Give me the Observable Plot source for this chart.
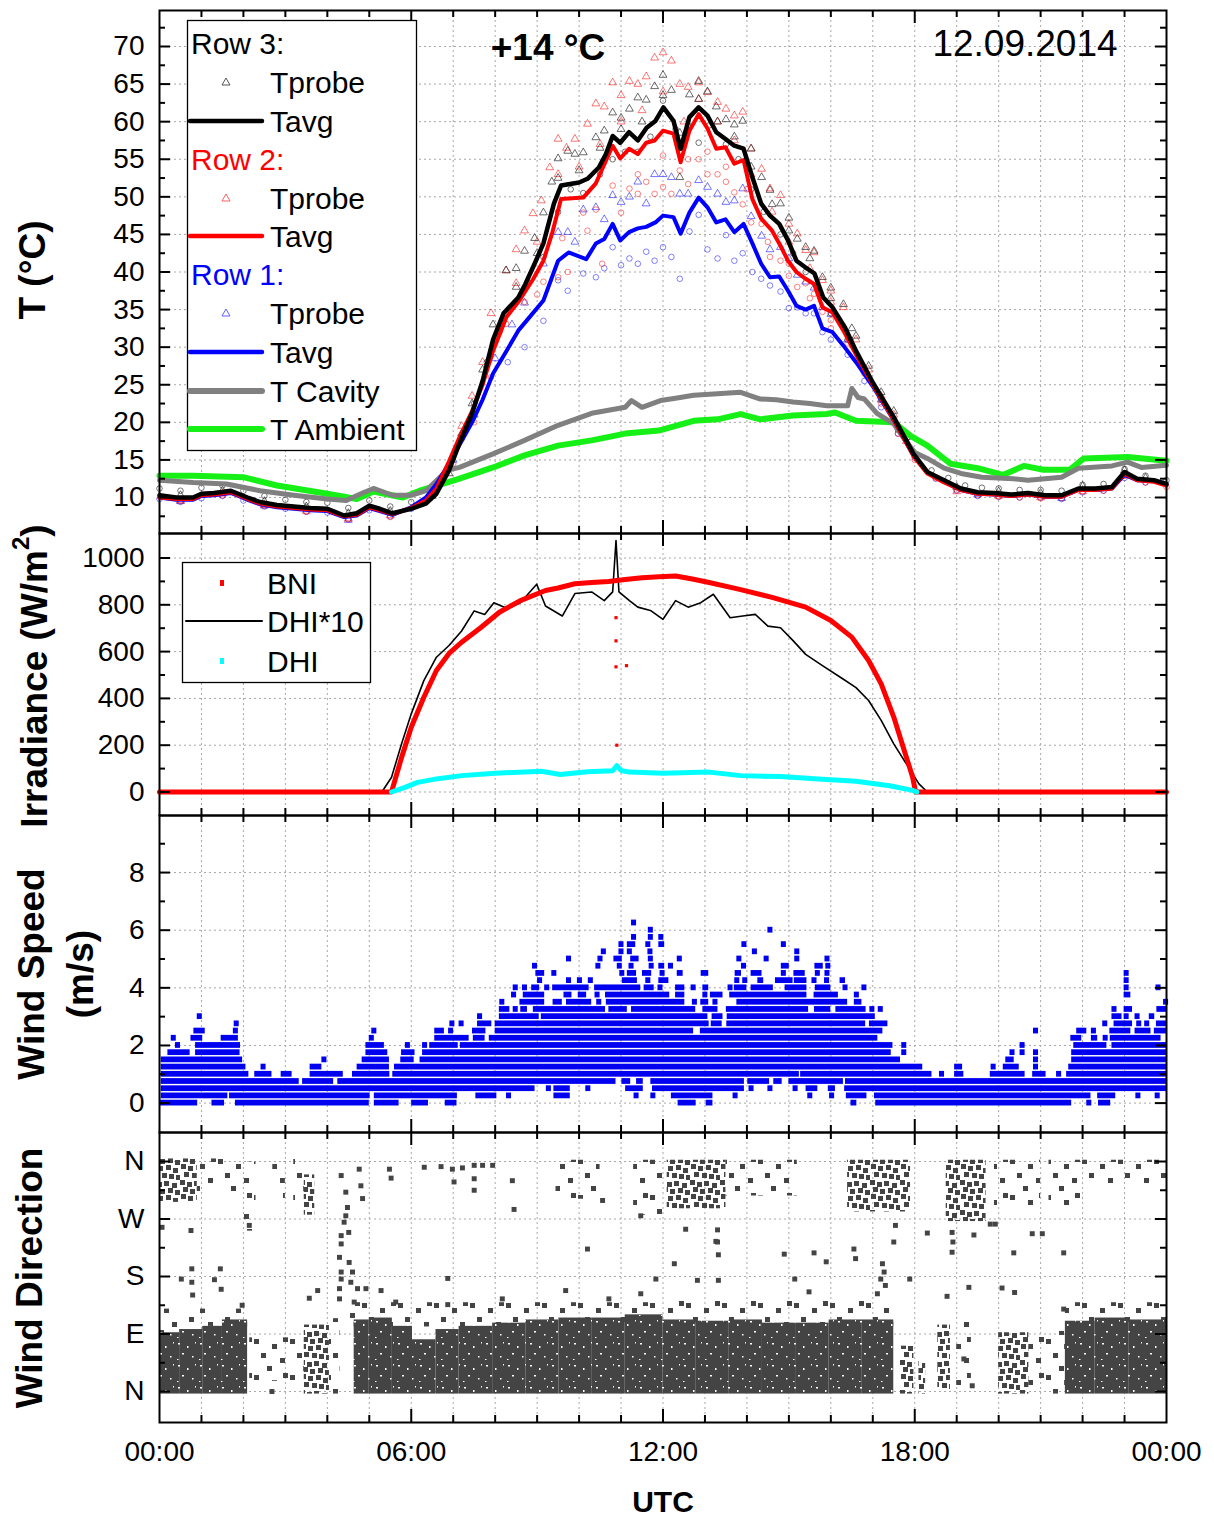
<!DOCTYPE html>
<html>
<head>
<meta charset="utf-8">
<script src="https://cdn.jsdelivr.net/npm/d3@7"></script>
<script src="https://cdn.jsdelivr.net/npm/@observablehq/plot@0.6"></script>
<style>
  html,body{margin:0;padding:0;background:#fff;}
  #chart{position:relative;width:1214px;height:1520px;background:#fff;overflow:hidden;}
</style>
</head>
<body>
<div id="chart"></div>
<script>
// ===================== DATA (hours UTC, values) =====================
// --- Temperature panel: averages [hour, °C]
const row3Tavg = [[0,10.3],[0.4,10.0],[0.8,10.0],[1.0,10.5],[1.3,10.6],[1.7,10.9],[2.1,10.0],[2.4,9.4],[2.8,9.0],[3.2,8.8],[3.6,8.6],[4.0,8.5],[4.4,7.6],[4.7,7.9],[5.0,8.9],[5.25,8.5],[5.55,7.9],[6.0,8.5],[6.35,9.2],[6.6,10.5],[6.9,13.6],[7.15,17.2],[7.45,21.2],[7.7,25.5],[7.95,31.0],[8.2,34.5],[8.55,36.6],[8.72,38.4],[8.94,41.1],[9.15,43.8],[9.4,49.1],[9.57,51.5],[10.0,51.9],[10.2,52.4],[10.47,53.9],[10.64,55.7],[10.8,58.1],[10.98,57.2],[11.19,58.6],[11.4,57.5],[11.61,59.2],[11.82,60.1],[12.01,61.9],[12.25,60.1],[12.42,56.4],[12.63,60.6],[12.85,61.9],[13.06,60.8],[13.27,58.6],[13.49,57.7],[13.7,56.8],[13.92,56.4],[14.13,52.6],[14.34,49.1],[14.55,47.5],[14.77,46.4],[14.98,44.2],[15.18,41.5],[15.4,40.6],[15.61,39.8],[15.82,36.6],[16.04,35.3],[16.34,32.6],[16.6,29.5],[17.0,25.3],[17.5,20.7],[17.97,15.8],[18.3,13.4],[18.7,12.3],[19.1,11.2],[19.5,10.7],[19.9,10.6],[20.3,10.4],[20.7,10.6],[21.1,10.3],[21.5,10.3],[21.9,11.2],[22.3,11.2],[22.7,11.4],[23.0,13.4],[23.3,12.5],[23.7,12.3],[24,11.8]];
const row2Tavg = [[0,10.0],[0.4,9.8],[0.8,9.8],[1.0,10.3],[1.3,10.4],[1.7,10.7],[2.1,9.8],[2.4,9.2],[2.8,8.8],[3.2,8.6],[3.6,8.4],[4.0,8.3],[4.4,7.5],[4.7,7.7],[5.0,8.7],[5.25,8.3],[5.55,7.8],[6.0,8.6],[6.35,9.6],[6.6,11.2],[6.9,14.8],[7.15,18.0],[7.45,21.5],[7.7,25.0],[7.95,29.5],[8.27,34.0],[8.55,36.0],[8.9,39.0],[9.15,41.5],[9.35,45.0],[9.57,49.7],[10.1,49.9],[10.4,51.8],[10.8,56.8],[10.98,55.1],[11.19,56.4],[11.4,55.7],[11.6,57.2],[11.8,57.5],[12.0,58.8],[12.25,58.4],[12.42,54.6],[12.63,58.8],[12.85,61.0],[13.06,59.1],[13.27,56.4],[13.49,56.6],[13.7,54.4],[13.92,54.9],[14.13,49.7],[14.34,47.1],[14.6,45.5],[14.77,43.8],[14.98,41.5],[15.18,40.0],[15.4,39.1],[15.6,38.4],[15.8,35.3],[16.04,34.6],[16.3,32.2],[16.6,29.0],[17.0,25.0],[17.5,20.3],[17.97,15.5],[18.3,13.2],[18.7,12.0],[19.1,11.0],[19.5,10.5],[19.9,10.4],[20.3,10.2],[20.7,10.4],[21.1,10.1],[21.5,10.1],[21.9,11.0],[22.3,11.0],[22.7,11.2],[23.0,13.2],[23.3,12.3],[23.7,12.1],[24,11.6]];
const row1Tavg = [[0,10.0],[0.4,9.7],[0.8,9.7],[1.0,10.2],[1.3,10.3],[1.7,10.6],[2.1,9.7],[2.4,9.1],[2.8,8.7],[3.2,8.5],[3.6,8.3],[4.0,8.2],[4.4,7.4],[4.7,7.6],[5.0,8.6],[5.25,8.2],[5.55,7.7],[6.0,8.7],[6.35,10.0],[6.6,11.8],[6.9,14.5],[7.15,17.0],[7.45,20.0],[7.7,23.0],[7.95,26.5],[8.27,29.5],[8.55,32.2],[8.85,34.2],[9.15,36.2],[9.5,41.5],[9.75,42.6],[10.17,41.7],[10.4,43.8],[10.6,44.4],[10.8,46.4],[10.98,44.2],[11.19,45.3],[11.4,45.8],[11.6,46.0],[11.82,46.6],[12.0,47.5],[12.25,47.3],[12.42,45.1],[12.63,47.9],[12.85,49.9],[13.06,48.6],[13.27,46.6],[13.49,47.0],[13.7,45.3],[13.92,46.4],[14.13,43.8],[14.34,41.1],[14.55,39.3],[14.77,39.4],[14.98,37.5],[15.18,35.5],[15.4,35.0],[15.6,35.5],[15.8,32.5],[16.04,32.0],[16.3,30.2],[16.6,28.0],[17.0,24.8],[17.5,20.3],[17.97,15.6],[18.3,13.3],[18.7,12.1],[19.1,11.0],[19.5,10.5],[19.9,10.4],[20.3,10.2],[20.7,10.4],[21.1,10.1],[21.5,10.1],[21.9,11.0],[22.3,11.0],[22.7,11.2],[23.0,13.0],[23.3,12.3],[23.7,12.2],[24,11.7]];
const tCavity = [[0,12.3],[0.8,12.0],[1.6,11.8],[2.4,10.9],[3.2,10.3],[4.0,9.8],[4.45,9.6],[4.8,10.5],[5.1,11.2],[5.55,10.3],[6.0,10.3],[6.35,10.9],[6.85,13.6],[7.15,14.0],[7.95,15.8],[8.7,17.6],[9.5,19.6],[10.3,21.2],[11.1,22.0],[11.25,22.9],[11.5,22.0],[11.94,22.9],[12.3,23.2],[12.73,23.6],[13.3,23.8],[13.85,24.0],[14.32,23.1],[14.7,23.0],[15.1,22.7],[15.5,22.5],[15.9,22.2],[16.4,22.2],[16.5,24.5],[16.65,23.3],[16.8,23.1],[17.1,21.2],[17.5,19.8],[17.8,17.4],[18.0,16.0],[18.3,15.2],[18.7,13.9],[19.1,13.2],[19.6,12.7],[20.35,12.5],[20.7,12.3],[21.5,12.7],[21.9,13.9],[22.7,14.2],[23.07,14.7],[23.4,14.0],[24,14.3]];
const tAmbient = [[0,12.9],[0.8,12.9],[2.0,12.7],[2.8,11.6],[4.0,10.5],[4.7,9.8],[5.1,10.8],[5.8,10.0],[6.2,10.9],[6.75,11.8],[7.15,12.5],[7.95,14.0],[8.7,15.6],[9.5,16.9],[10.3,17.6],[11.1,18.5],[11.9,18.9],[12.73,20.2],[13.3,20.4],[13.85,21.1],[14.32,20.4],[15.1,20.9],[15.9,21.1],[16.1,21.3],[16.6,20.2],[17.5,20.0],[17.9,18.2],[18.3,16.9],[18.85,14.5],[19.5,13.9],[20.1,13.0],[20.6,14.2],[21.07,13.7],[21.7,13.7],[22.03,15.2],[23.07,15.4],[24,14.9]];
// --- Temperature panel: individual probes [hour, °C]
const row3ProbeTri = [[0.5,10.3],[1.5,10.9],[2.5,9.5],[3.5,8.8],[4.5,7.9],[5.5,8.2],[6.5,10.2],[6.9,13.2],[7.2,18.5],[7.45,22.5],[7.7,27.0],[7.95,33.0],[8.26,40.2],[8.5,40.5],[8.7,42.8],[8.94,44.5],[9.15,47.9],[9.35,52.0],[9.5,55.1],[9.73,56.1],[9.9,55.7],[10.1,55.9],[10.4,57.9],[10.6,58.8],[10.8,61.2],[11.0,60.5],[11.2,61.7],[11.4,63.2],[11.6,62.9],[11.8,64.7],[12.0,66.2],[12.2,64.2],[12.4,58.5],[12.63,63.6],[12.85,65.4],[13.06,64.0],[13.27,62.0],[13.5,60.3],[13.7,59.6],[13.9,60.1],[14.1,56.4],[14.35,52.6],[14.55,50.9],[14.8,49.1],[15.0,47.2],[15.2,44.4],[15.4,43.3],[15.6,42.8],[15.8,39.3],[16.0,37.9],[16.3,35.7],[16.6,31.5],[16.9,27.5],[17.2,24.0],[17.5,21.5],[17.8,18.0],[8.5,38.0],[9.0,42.5],[9.5,52.5],[10.0,53.5],[10.5,56.5],[11.0,59.0],[11.5,60.0],[12.0,63.5],[12.4,52.6],[12.85,63.0],[13.3,60.0],[13.7,58.0],[14.1,54.0],[14.6,49.0],[15.0,45.5],[15.5,41.8],[16.0,36.5],[16.5,32.5],[19,11.4],[20,10.8],[21,10.6],[22,11.5],[23,13.6],[23.5,12.6]];
const row3ProbeCirc = [[0,11.2],[0.5,10.9],[1.0,11.3],[1.5,11.6],[2.0,10.9],[2.5,10.2],[3.0,9.7],[3.5,9.4],[4.0,9.3],[4.5,8.6],[5.0,9.6],[5.5,8.8],[6.0,9.4],[6.5,11.5],[6.9,14.2],[7.2,17.8],[7.5,22.5],[7.8,28.0],[8.1,32.0],[8.5,36.0],[8.8,38.5],[9.15,42.0],[9.5,48.0],[9.8,51.0],[10.1,50.5],[10.5,53.0],[10.8,55.0],[11.1,56.0],[11.4,56.0],[11.7,58.0],[12.0,62.8],[12.3,59.0],[12.6,59.5],[12.85,57.2],[13.1,59.5],[13.5,57.0],[13.8,55.0],[14.1,51.0],[14.4,48.0],[14.8,45.0],[15.1,42.5],[15.4,40.0],[15.7,37.5],[16.0,34.5],[16.4,31.0],[16.8,27.0],[17.2,23.0],[17.6,19.0],[18.0,15.8],[18.4,13.6],[18.8,12.6],[19.2,11.6],[19.6,11.3],[20.0,11.2],[20.5,11.0],[21.0,11.0],[21.5,10.9],[22.0,11.7],[22.5,11.8],[23.0,13.8],[23.5,12.9],[24,12.3]];
const row2ProbeTri = [[0.5,9.6],[1.5,10.5],[2.5,9.0],[3.5,8.2],[4.5,7.2],[5.5,7.6],[7.2,19.5],[7.45,23.5],[7.7,28.0],[7.9,34.5],[8.26,40.2],[8.5,43.0],[8.7,45.5],[8.9,47.8],[9.1,49.5],[9.3,53.9],[9.5,57.7],[9.7,56.5],[9.9,57.7],[10.2,59.7],[10.4,62.4],[10.6,62.0],[10.8,65.2],[11.0,63.5],[11.2,65.4],[11.4,65.0],[11.6,66.0],[11.8,68.5],[12.0,69.2],[12.2,68.1],[12.4,65.0],[12.6,64.6],[12.85,65.2],[13.06,63.9],[13.3,62.6],[13.5,61.7],[13.7,60.8],[13.9,61.3],[14.1,56.4],[14.35,53.7],[14.55,51.1],[14.8,50.2],[15.0,46.4],[15.2,45.1],[15.4,42.9],[15.6,42.6],[15.8,38.9],[16.0,37.5],[16.3,35.3],[16.6,31.0],[16.9,27.0],[17.2,23.5],[17.5,21.0],[17.8,17.5],[8.5,38.5],[9.0,44.0],[9.5,53.0],[10.0,54.0],[10.5,57.0],[11.0,60.0],[11.5,61.5],[12.0,64.0],[12.5,60.0],[12.85,63.0],[13.3,60.0],[13.7,57.5],[14.1,53.0],[14.6,48.0],[15.0,44.0],[15.5,40.5],[16.0,36.0],[19,10.8],[20,10.2],[21,10.0],[22,10.8],[23,12.9]];
const row2ProbeCirc = [[0.5,9.5],[1.5,10.3],[2.5,8.9],[3.5,8.1],[4.5,7.1],[5.5,7.4],[6.5,10.5],[7.0,14.5],[7.5,20.0],[7.9,26.0],[8.26,33.1],[8.7,36.0],[9.15,38.7],[9.5,39.3],[9.73,40.0],[10.1,47.9],[10.4,48.3],[10.55,41.1],[11.0,47.9],[11.2,51.1],[11.4,50.4],[11.6,52.0],[11.8,50.4],[12.0,51.3],[12.2,50.4],[12.4,53.5],[12.6,51.7],[12.85,55.0],[13.06,53.0],[13.3,53.0],[13.5,52.0],[13.7,50.6],[13.9,49.0],[14.1,46.6],[14.35,46.4],[14.55,42.0],[14.8,41.5],[15.0,41.1],[15.2,38.0],[15.4,38.5],[15.6,37.1],[15.8,34.7],[16.0,33.6],[16.4,30.5],[16.8,26.5],[17.2,22.5],[17.6,18.5],[18.0,15.0],[18.5,12.6],[19.0,11.0],[19.5,10.3],[20.0,10.1],[20.5,10.0],[21.0,9.9],[21.5,9.9],[22.0,10.8],[22.5,10.9],[23.0,12.9],[23.5,12.0],[24,11.4],[9.0,37.0],[9.6,44.5],[10.2,45.5],[10.8,51.5],[11.4,53.0],[12.0,55.5],[12.6,55.0],[13.06,56.0],[13.5,54.0],[14.0,51.0],[14.5,44.0],[15.0,39.5],[15.5,36.5],[16.0,32.5]];
const row1ProbeTri = [[0.5,9.5],[2.5,8.9],[4.5,7.0],[7.0,15.0],[7.5,21.0],[8.0,28.5],[8.4,33.0],[8.7,35.9],[9.15,41.1],[9.5,45.3],[9.73,45.3],[9.9,44.0],[10.1,48.3],[10.4,48.6],[10.6,47.0],[10.8,50.2],[11.0,49.3],[11.2,50.0],[11.4,52.0],[11.6,49.1],[11.8,53.0],[12.0,53.0],[12.2,52.6],[12.4,50.4],[12.6,50.4],[12.85,52.2],[13.06,51.3],[13.3,50.4],[13.5,49.3],[13.7,49.5],[13.9,51.1],[14.1,47.4],[14.35,44.8],[14.55,43.0],[14.8,43.3],[15.0,41.8],[15.2,39.6],[15.4,38.7],[15.6,37.9],[15.8,35.3],[16.0,34.4],[16.4,31.0],[16.8,27.0],[17.2,23.0],[19.5,10.4],[21.5,9.9]];
const row1ProbeCirc = [[0,9.8],[0.5,9.4],[1.0,9.9],[1.5,10.2],[2.0,9.6],[2.5,8.8],[3.0,8.5],[3.5,8.1],[4.0,8.0],[4.5,7.1],[5.0,8.3],[5.5,7.5],[6.0,8.5],[8.3,28.0],[8.7,30.0],[9.15,33.5],[9.5,38.9],[9.73,37.5],[10.1,39.8],[10.4,39.3],[10.6,40.5],[10.8,43.3],[11.0,40.9],[11.2,41.8],[11.4,41.1],[11.6,42.7],[11.8,41.5],[12.0,43.3],[12.2,42.0],[12.4,39.1],[12.63,45.4],[12.85,47.6],[13.06,43.0],[13.3,41.8],[13.5,44.9],[13.7,41.5],[13.9,42.5],[14.13,40.0],[14.34,39.1],[14.55,38.2],[14.8,37.4],[15.0,35.2],[15.2,35.3],[15.4,34.5],[15.6,34.5],[15.8,32.0],[16.0,31.0],[16.4,29.0],[16.8,25.5],[17.2,22.0],[17.6,18.5],[18.0,15.3],[18.5,12.5],[19.0,10.9],[19.5,10.2],[20.0,10.1],[20.5,10.0],[21.0,10.0],[21.5,9.8],[22.0,10.7],[22.5,10.9],[23.0,12.6],[23.5,12.0]];

// --- Irradiance panel [hour, W/m²]
const bni = [[0,0],[5.53,0],[5.77,148],[6.0,277],[6.3,405],[6.6,519],[6.9,592],[7.2,640],[7.66,703],[8.1,768],[8.6,818],[9.2,861],[9.5,872],[9.9,890],[10.3,895],[10.7,900],[11.1,908],[11.5,916],[11.9,920],[12.3,923],[12.7,910],[13.1,895],[13.8,867],[14.6,832],[15.4,790],[16.0,733],[16.5,662],[16.9,562],[17.2,462],[17.5,320],[17.8,149],[17.95,63],[18.02,0],[24,0]];
const bniOutliers = [[10.88,745],[10.88,646],[10.88,535],[11.13,540],[10.9,200]];
const dhiTimes10 = [[0,0],[5.3,0],[5.53,63],[5.77,206],[6.0,334],[6.3,476],[6.6,576],[6.9,626],[7.2,688],[7.5,774],[7.75,759],[7.97,809],[8.3,783],[8.6,809],[8.99,888],[9.2,795],[9.6,752],[9.9,848],[10.3,855],[10.6,818],[10.8,855],[10.88,1075],[10.95,855],[11.2,818],[11.4,790],[11.7,776],[12.0,738],[12.3,818],[12.6,790],[12.9,809],[13.2,845],[13.6,745],[13.9,752],[14.2,759],[14.5,709],[14.8,702],[15.1,647],[15.4,588],[15.8,540],[16.3,482],[16.6,446],[16.9,391],[17.2,306],[17.5,206],[17.8,120],[18.1,35],[18.3,0],[24,0]];
const dhi = [[5.53,0],[5.85,20],[6.15,41],[6.6,56],[7.2,70],[8.0,80],[9.1,89],[9.55,75],[10.2,87],[10.8,91],[10.9,113],[11.0,92],[11.2,85],[12.0,80],[13.1,85],[13.85,70],[14.8,66],[15.7,56],[16.6,46],[17.4,27],[17.95,7],[18.05,0]];

// --- Wind speed: runs of readings at each 0.25 m/s level [m/s, from hour, to hour]
const windSpeedRuns = [
[0,0,0.91],[0,1.25,1.55],[0,1.81,5.0],[0,5.12,5.71],[0,6.01,6.41],[0,6.81,7.09],[0,12.36,12.79],[0,13.03,13.19],[0,16.48,16.62],[0,17.07,21.74],[0,22.10,22.21],[0,22.38,22.67],
[0.25,0.04,1.63],[0.25,1.67,5.02],[0.25,5.12,7.10],[0.25,7.54,8.04],[0.25,8.27,8.37],[0.25,9.40,9.79],[0.25,11.31,11.43],[0.25,11.71,11.83],[0.25,12.20,13.19],[0.25,13.67,13.76],[0.25,15.45,15.57],[0.25,15.97,16.05],[0.25,16.37,16.86],[0.25,17.04,22.20],[0.25,22.36,22.79],[0.25,23.27,23.39],[0.25,23.73,23.83],
[0.5,0.04,8.95],[0.5,9.22,9.33],[0.5,9.40,9.79],[0.5,10.16,10.28],[0.5,11.11,11.53],[0.5,11.75,13.94],[0.5,14.05,14.14],[0.5,14.50,14.58],[0.5,15.10,15.20],[0.5,15.41,15.69],[0.5,15.94,16.11],[0.5,16.33,24],
[0.75,0.04,3.33],[0.75,3.41,4.15],[0.75,4.25,10.88],[0.75,11.02,11.23],[0.75,11.37,11.53],[0.75,11.71,13.94],[0.75,14.02,14.54],[0.75,14.64,14.84],[0.75,15.0,16.30],[0.75,16.35,24],
[1,0.04,2.13],[1,2.27,2.68],[1,2.90,3.16],[1,3.59,4.38],[1,4.60,5.49],[1,5.56,15.25],[1,15.28,18.41],[1,18.59,18.71],[1,18.95,19.17],[1,19.80,20.63],[1,20.81,21.13],[1,21.38,21.50],[1,21.62,24],
[1.25,0.04,2.06],[1.25,2.42,2.52],[1.25,3.59,3.87],[1.25,4.71,5.48],[1.25,5.60,18.19],[1.25,18.95,19.14],[1.25,19.82,19.92],[1.25,20.11,20.49],[1.25,20.83,20.94],[1.25,21.67,24],
[1.5,0.04,1.98],[1.5,3.87,3.97],[1.5,4.83,5.48],[1.5,5.75,6.07],[1.5,6.21,17.66],[1.5,20.17,20.37],[1.5,20.83,20.94],[1.5,21.74,24],
[1.75,0.2,0.73],[1.75,0.86,1.92],[1.75,4.92,5.44],[1.75,5.77,6.09],[1.75,6.27,17.44],[1.75,17.69,17.79],[1.75,20.27,20.37],[1.75,20.51,20.62],[1.75,20.83,20.93],[1.75,21.74,24],
[2,0.38,0.49],[2,0.86,1.93],[2,4.92,5.36],[2,5.86,5.97],[2,6.27,6.37],[2,6.44,7.12],[2,7.17,17.48],[2,17.69,17.79],[2,20.51,20.62],[2,21.79,22.58],[2,22.70,24],
[2.25,0.28,0.38],[2.25,0.75,1.03],[2.25,1.47,1.88],[2.25,5.0,5.12],[2.25,6.56,7.38],[2.25,7.48,7.76],[2.25,7.86,17.12],[2.25,21.72,21.98],[2.25,22.21,22.36],[2.25,22.49,22.58],[2.25,22.66,23.87],
[2.5,0.82,1.09],[2.5,1.76,1.87],[2.5,5.06,5.18],[2.5,6.56,6.79],[2.5,6.89,7.0],[2.5,7.46,7.78],[2.5,8.0,12.73],[2.5,12.89,17.24],[2.5,20.83,20.93],[2.5,21.86,22.1],[2.5,22.21,22.32],[2.5,22.65,23.15],[2.5,23.25,23.63],[2.5,23.71,24],
[2.75,1.78,1.88],[2.75,6.92,7.02],[2.75,7.14,7.24],[2.75,7.58,7.92],[2.75,8.0,13.1],[2.75,13.15,13.41],[2.75,13.52,16.83],[2.75,16.92,17.36],[2.75,22.48,22.58],[2.75,22.75,23.19],[2.75,23.29,23.39],[2.75,23.48,23.59],[2.75,23.76,24],
[3,0.9,1.0],[3,7.58,7.68],[3,8.10,9.05],[3,9.10,13.07],[3,13.17,13.43],[3,13.53,17.06],[3,22.70,22.94],[3,22.99,23.11],[3,23.25,23.35],[3,23.59,23.72],
[3.25,8.10,8.35],[3.25,8.43,8.53],[3.25,8.61,8.77],[3.25,8.91,10.63],[3.25,10.71,11.15],[3.25,11.25,12.78],[3.25,12.95,13.31],[3.25,13.51,15.47],[3.25,15.61,16.0],[3.25,16.12,16.84],[3.25,16.93,17.04],[3.25,17.13,17.21],[3.25,22.70,22.79],[3.25,22.99,23.19],[3.25,23.77,24],
[3.5,8.11,8.21],[3.5,8.59,9.18],[3.5,9.38,9.60],[3.5,9.70,10.30],[3.5,10.42,10.52],[3.5,10.65,12.52],[3.5,12.70,12.79],[3.5,12.90,13.09],[3.5,13.19,13.29],[3.5,13.76,16.40],[3.5,16.56,16.74],[3.5,23.93,24],
[3.75,8.39,8.48],[3.75,8.67,9.18],[3.75,9.64,9.83],[3.75,9.98,10.18],[3.75,10.38,10.48],[3.75,10.63,12.16],[3.75,12.30,12.52],[3.75,12.95,13.02],[3.75,13.13,13.43],[3.75,13.59,15.43],[3.75,15.60,16.18],[3.75,16.56,16.68],[3.75,22.99,23.15],
[4,8.43,8.53],[4,8.65,8.77],[4,8.87,9.06],[4,9.18,9.29],[4,9.37,10.24],[4,10.37,11.47],[4,11.55,11.79],[4,11.88,11.98],[4,12.30,12.52],[4,12.67,12.78],[4,12.95,13.09],[4,13.55,13.64],[4,13.70,14.0],[4,14.10,14.63],[4,14.91,15.43],[4,15.63,16.0],[4,16.29,16.39],[4,16.74,16.84],[4,22.99,23.1],[4,23.75,23.87],
[4.25,9.01,9.11],[4.25,9.70,9.80],[4.25,9.96,10.06],[4.25,10.22,10.32],[4.25,11.03,11.39],[4.25,11.59,11.68],[4.25,11.90,12.14],[4.25,13.71,13.79],[4.25,13.90,14.0],[4.25,14.26,14.40],[4.25,14.68,15.10],[4.25,15.13,15.43],[4.25,15.55,15.65],[4.25,15.85,15.94],[4.25,16.22,16.35],[4.25,22.99,23.1],
[4.5,8.97,9.18],[4.5,9.35,9.44],[4.5,10.97,11.06],[4.5,11.15,11.37],[4.5,11.51,11.73],[4.5,11.93,12.04],[4.5,12.34,12.48],[4.5,12.91,13.09],[4.5,13.72,13.87],[4.5,14.10,14.36],[4.5,14.82,14.92],[4.5,15.12,15.39],[4.5,15.63,15.73],[4.5,15.86,15.95],[4.5,22.99,23.1],
[4.75,8.89,8.99],[4.75,10.40,10.48],[4.75,10.91,11.03],[4.75,11.19,11.27],[4.75,11.67,11.79],[4.75,11.9,12.04],[4.75,12.13,12.23],[4.75,13.87,13.98],[4.75,14.82,15.01],[4.75,15.62,15.82],[4.75,15.88,15.98],
[5,9.70,9.80],[5,10.45,10.56],[5,10.83,11.03],[5,11.23,11.43],[5,11.65,11.75],[5,12.34,12.45],[5,13.76,13.87],[5,14.41,14.51],[5,15.14,15.24],[5,15.86,15.96],
[5.25,10.53,10.63],[5.25,10.95,11.06],[5.25,11.15,11.25],[5.25,11.64,11.75],[5.25,14.13,14.24],[5.25,15.14,15.24],
[5.5,10.95,11.07],[5.5,11.15,11.35],[5.5,11.59,11.69],[5.5,11.9,12.04],[5.5,13.88,14.0],[5.5,14.82,14.91],
[5.75,11.25,11.37],[5.75,11.65,11.76],[5.75,11.9,12.0],
[6,11.65,11.76],[6,14.5,14.6],
[6.25,11.25,11.37]
];

// --- Wind direction: clusters of readings [from hour, to hour, low °, high °, density 3=dense 2=medium 1=sparse]
const dirBands = [
[0,0.48,0,88,3],[0.48,1.03,0,93,3],[1.03,1.5,0,98,3],[1.5,2.1,0,108,3],
[4.64,5.0,0,108,3],[5.0,5.55,0,111,3],[5.55,6.03,0,98,3],[6.03,6.59,0,77,3],[6.59,7.14,0,93,3],[7.14,7.94,0,98,3],[7.94,8.73,0,103,3],[8.73,9.52,0,108,3],[9.52,10.3,0,111,3],[10.3,11.1,0,111,3],[11.1,12.0,0,116,3],
[12.0,12.78,0,108,3],[12.78,13.58,0,106,3],[13.58,14.37,0,108,3],[14.37,15.16,0,103,3],[15.16,15.96,0,103,3],[15.96,16.75,0,108,3],[16.75,17.5,0,108,3],
[21.59,22.3,0,106,3],[22.3,23.1,0,111,3],[23.1,24,0,108,3],
[3.45,4.05,0,100,2],[17.66,17.98,0,67,2],[18.1,18.26,0,46,2],[18.55,18.85,5,100,2],[20.0,20.72,0,88,2],
[0,0.9,300,360,2],[3.45,3.7,280,335,2],[12.1,13.5,290,358,2],[16.4,17.9,285,358,2],[18.75,19.7,270,358,2],
[0,2.1,88,125,1],[2.15,3.45,20,80,1],[4.05,4.3,0,110,1],[4.64,12,105,135,1],[12,17.5,105,140,1],[19.0,19.35,0,110,1],[20.72,21.59,0,90,1],[21.59,24,108,135,1],
[0.9,2.0,315,360,1],[2.0,2.3,255,355,1],[2.7,3.0,305,355,1],[3.2,3.45,290,360,1],[9.45,10.5,305,358,1],[11.3,12.0,280,358,1],[13.5,15.2,310,358,1],[19.9,21.0,295,358,1],[21.2,22.0,290,358,1],[22.0,24,325,358,1]
];
const dirPoints = [[4.33,338],[4.44,312],[4.48,288],[4.40,265],[4.33,244],[4.33,231],[4.51,249],[4.29,210],[4.33,187],[4.52,202],[4.6,187],[4.56,171],[4.72,161],[4.64,140],[4.6,119],[4.29,161],[4.29,145],[4.33,176],[4.76,348],[4.8,322],[4.84,302],[4.44,275],
[0.75,252],[0.77,192],[0.77,171],[0.79,151],[1.45,192],[1.47,160],[1.31,175],[0.52,176],[0.06,257],[2.14,260],[1.97,135],[3.77,158],[3.57,146],[4.92,161],[5.28,158],[5.63,140],[6.87,177],[6.87,136],[8.17,145],[9.68,158],[10.2,223],[10.71,145],[11.47,275],[11.47,153],[11.83,176],[8.45,285],[10.56,299],[5.48,348],[5.52,334],[6.31,351],[6.71,352],[6.98,348],[7.02,328],[7.22,350],[7.5,354],[7.5,333],[7.5,315],[7.7,354],[7.94,354],[8.41,330],[2.68,0],
[12.27,200],[12.82,174],[13.3,234],[13.32,214],[13.32,174],[13.3,253],[14.89,215],[15.6,217],[15.89,203],[15.14,176],[15.48,156],[16.55,223],[16.59,208],[17.23,200],[17.27,187],[17.19,176],[17.3,166],[17.11,153],[17.5,234],[17.54,260],[17.88,176],[18.3,248],[18.89,249],[18.91,234],[18.89,218],[18.77,149],[19.29,163],[19.41,245],[20.08,162],[20.38,155],[20.36,217],[20.8,247],[21.04,247],[21.55,217],[21.55,129],[19.8,262],[19.92,262],[12.54,254],[13.26,235],[19.17,51],[19.37,9]];

// --- Axis tick values and labels
const tempTicks = [10,15,20,25,30,35,40,45,50,55,60,65,70];
const irrTicks = [0,200,400,600,800,1000];
const windTicks = [0,2,4,6,8];
const dirTicks = [0,90,180,270,360];
const dirTickLabels = ["N","E","S","W","N"];
const timeTicks = [0,6,12,18,24];
const timeTickLabels = ["00:00","06:00","12:00","18:00","00:00"];

// ===================== RENDERING =====================
const FONT = '"Liberation Sans", Arial, Helvetica, sans-serif';
const W = 1214, ML = 159, MR = 48;
const H_PER_PX = 24 / (W - ML - MR);
const chart = document.getElementById("chart");

// textures used to render the wind-direction point clouds
const defsSvg = d3.create("svg").attr("width", 0).attr("height", 0).style("position", "absolute");
const defs = defsSvg.append("defs");
const pDense = defs.append("pattern").attr("id", "pDense").attr("patternUnits", "userSpaceOnUse").attr("width", 22).attr("height", 22);
pDense.append("rect").attr("width", 22).attr("height", 22).attr("fill", "#444");
[[2,3,2,1.5],[11,6,1.5,2],[6,13,2,1.5],[16,16,1.5,1.5],[19,2,1,1.5],[1,19,1.5,1]].forEach(([x,y,w,h]) => pDense.append("rect").attr("x", x).attr("y", y).attr("width", w).attr("height", h).attr("fill", "#fff"));
const pMed = defs.append("pattern").attr("id", "pMed").attr("patternUnits", "userSpaceOnUse").attr("width", 30).attr("height", 30);
[[0,0],[7,2],[14,1],[22,3],[3,7],[10,9],[18,8],[25,10],[1,14],[8,16],[16,15],[23,18],[4,22],[12,23],[19,24],[26,25]].forEach(([x,y]) => pMed.append("rect").attr("x", x).attr("y", y).attr("width", 5).attr("height", 5).attr("fill", "#444"));
const pSparse = defs.append("pattern").attr("id", "pSparse").attr("patternUnits", "userSpaceOnUse").attr("width", 36).attr("height", 36);
[[2,3],[20,8],[9,17],[28,22],[15,30],[31,1]].forEach(([x,y]) => pSparse.append("rect").attr("x", x).attr("y", y).attr("width", 5).attr("height", 5).attr("fill", "#444"));
chart.appendChild(defsSvg.node());

function makePanel({plotTop, plotH, padTop = 12, padBottom = 12, yDomain, gridY, majorY, minorY, yTickValues, yTickText, marks, extra = []}) {
  const [y0, y1] = yDomain;
  const yPerPx = (y1 - y0) / plotH;
  const longH = 11 * H_PER_PX, shortH = 6 * H_PER_PX;
  const longV = 13 * yPerPx, shortV = 7 * yPerPx;
  const minorHours = d3.range(1, 24).filter(h => h % 6 !== 0);
  const sixHours = [6, 12, 18];
  const tk = {stroke: "#000", strokeWidth: 2};
  const grid = {stroke: "#a8a8a8", strokeWidth: 1, strokeDasharray: "2,3"};
  const svg = Plot.plot({
    width: W, height: plotH + padTop + padBottom,
    marginLeft: ML, marginRight: MR, marginTop: padTop, marginBottom: padBottom,
    x: {domain: [0, 24], axis: null},
    y: {domain: yDomain, axis: null},
    style: {background: "transparent", overflow: "visible", fontFamily: FONT},
    marks: [
      Plot.ruleX(d3.range(1, 24), grid),
      Plot.ruleY(gridY, grid),
      ...marks,
      Plot.ruleY(majorY, {x1: 0, x2: longH, ...tk}),
      Plot.ruleY(minorY, {x1: 0, x2: shortH, ...tk}),
      Plot.ruleY(majorY, {x1: 24 - longH, x2: 24, ...tk}),
      Plot.ruleY(minorY, {x1: 24 - shortH, x2: 24, ...tk}),
      Plot.ruleX(minorHours, {y1: y0, y2: y0 + shortV, ...tk}),
      Plot.ruleX(sixHours, {y1: y0, y2: y0 + longV, ...tk}),
      Plot.ruleX(minorHours, {y1: y1 - shortV, y2: y1, ...tk}),
      Plot.ruleX(sixHours, {y1: y1 - longV, y2: y1, ...tk}),
      Plot.frame({stroke: "#000", strokeWidth: 2}),
      Plot.text(yTickValues, {x: 0, y: d => d, text: (d, i) => yTickText[i], textAnchor: "end", dx: -15, fontSize: 28, fontFamily: FONT, fill: "#000"}),
      ...extra
    ]
  });
  svg.style.position = "absolute";
  svg.style.left = "0px";
  svg.style.top = (plotTop - padTop) + "px";
  chart.appendChild(svg);
  return svg;
}

const X = d => d[0], Y = d => d[1];
const probe = (data, symbol, color, op) => Plot.dot(data, {x: X, y: Y, symbol, r: symbol === "circle" ? 2.8 : 2.9, stroke: color, strokeOpacity: op, strokeWidth: 0.9, fill: "none"});

// Panel 1: temperature
makePanel({
  plotTop: 10, plotH: 523, padTop: 10,
  yDomain: [5.21, 74.79],
  gridY: d3.range(10, 75, 5), majorY: d3.range(10, 75, 5), minorY: d3.range(7.5, 75, 5),
  yTickValues: tempTicks, yTickText: tempTicks.map(String),
  marks: [
    probe(row1ProbeCirc, "circle", "#0000ff", 0.55),
    probe(row1ProbeTri, "triangle", "#0000ff", 0.6),
    probe(row2ProbeCirc, "circle", "#ff0000", 0.55),
    probe(row2ProbeTri, "triangle", "#ff0000", 0.6),
    probe(row3ProbeCirc, "circle", "#222", 0.7),
    probe(row3ProbeTri, "triangle", "#222", 0.75),
    Plot.line(tAmbient, {x: X, y: Y, stroke: "#16f016", strokeWidth: 6}),
    Plot.line(tCavity, {x: X, y: Y, stroke: "#808080", strokeWidth: 5}),
    Plot.line(row1Tavg, {x: X, y: Y, stroke: "#0000ff", strokeWidth: 4}),
    Plot.line(row2Tavg, {x: X, y: Y, stroke: "#ff0000", strokeWidth: 4}),
    Plot.line(row3Tavg, {x: X, y: Y, stroke: "#000", strokeWidth: 4.5})
  ]
});

// Panel 2: irradiance
makePanel({
  plotTop: 533, plotH: 282,
  yDomain: [-100.4, 1104.7],
  gridY: irrTicks, majorY: irrTicks, minorY: d3.range(100, 1100, 200),
  yTickValues: irrTicks, yTickText: irrTicks.map(String),
  marks: [
    Plot.line(dhiTimes10, {x: X, y: Y, stroke: "#000", strokeWidth: 1.6}),
    Plot.line(bni, {x: X, y: Y, stroke: "#ff0000", strokeWidth: 5}),
    Plot.dot(bniOutliers, {x: X, y: Y, symbol: "square", r: 1.8, fill: "#ff0000"}),
    Plot.line(dhi, {x: X, y: Y, stroke: "#00ffff", strokeWidth: 5})
  ]
});

// Panel 3: wind speed
makePanel({
  plotTop: 815, plotH: 317,
  yDomain: [-1.02, 9.98],
  gridY: windTicks, majorY: windTicks, minorY: [1, 3, 5, 7, 9],
  yTickValues: windTicks, yTickText: windTicks.map(String),
  marks: [
    Plot.rect(windSpeedRuns, {x1: d => d[1], x2: d => Math.max(d[2], d[1] + 0.12), y1: d => d[0] - 0.1, y2: d => d[0] + 0.1, fill: "#0000f0"})
  ]
});

// Panel 4: wind direction (+ time axis)
makePanel({
  plotTop: 1132, plotH: 290, padBottom: 98,
  yDomain: [-48.5, 405.4],
  gridY: dirTicks, majorY: dirTicks, minorY: [45, 135, 225, 315],
  yTickValues: dirTicks, yTickText: dirTickLabels,
  marks: [
    Plot.rect(dirBands.filter(d => d[4] === 1), {x1: d => d[0], x2: d => d[1], y1: d => d[2] - 4, y2: d => d[3] + 4, fill: "url(#pSparse)"}),
    Plot.rect(dirBands.filter(d => d[4] === 2), {x1: d => d[0], x2: d => d[1], y1: d => d[2] - 4, y2: d => d[3] + 4, fill: "url(#pMed)"}),
    Plot.rect(dirBands.filter(d => d[4] === 3), {x1: d => d[0], x2: d => d[1], y1: d => d[2] - 4, y2: d => d[3] + 4, fill: "url(#pDense)"}),
    Plot.dot(dirPoints, {x: X, y: Y, symbol: "square", r: 2.8, fill: "#444"})
  ],
  extra: [
    Plot.text(timeTicks, {x: d => d, frameAnchor: "bottom", dy: 38, text: (d, i) => timeTickLabels[i], fontSize: 28, fontFamily: FONT, fill: "#000"}),
    Plot.text(["UTC"], {x: 12, frameAnchor: "bottom", dy: 89, text: d => d, fontSize: 30, fontWeight: "bold", fontFamily: FONT, fill: "#000"})
  ]
});

// ===================== Overlay: titles, annotations, legends =====================
const ov = d3.create("svg").attr("width", W).attr("height", 1520)
  .style("position", "absolute").style("left", "0px").style("top", "0px").style("font-family", FONT);

function rotTitle(x, y, txt) {
  return ov.append("text").attr("transform", `translate(${x},${y}) rotate(-90)`)
    .attr("text-anchor", "middle").attr("dominant-baseline", "central")
    .attr("font-size", 37).attr("font-weight", "bold").text(txt);
}
rotTitle(32, 270, "T (°C)");
const irr = rotTitle(34, 676, "Irradiance (W/m");
irr.append("tspan").attr("font-size", 24).attr("baseline-shift", "super").text("2");
irr.append("tspan").text(")");
rotTitle(31, 974, "Wind Speed");
rotTitle(80, 974, "(m/s)");
rotTitle(29, 1278, "Wind Direction");

ov.append("text").attr("x", 548).attr("y", 60).attr("text-anchor", "middle").attr("font-size", 37).attr("font-weight", "bold").text("+14 °C");
ov.append("text").attr("x", 1025).attr("y", 56).attr("text-anchor", "middle").attr("font-size", 37).text("12.09.2014");

// Legend 1 (temperature)
const lg1 = ov.append("g");
lg1.append("rect").attr("x", 187.5).attr("y", 20.5).attr("width", 229).attr("height", 430).attr("fill", "#fff").attr("stroke", "#000").attr("stroke-width", 1.3);
const tri = (cx, cy, color) => lg1.append("path").attr("d", `M${cx},${cy-4}L${cx+4},${cy+3}L${cx-4},${cy+3}Z`).attr("fill", "none").attr("stroke", color).attr("stroke-width", 0.9);
const lline = (g, y, color, w, x1 = 190, x2 = 262) => g.append("line").attr("x1", x1).attr("x2", x2).attr("y1", y).attr("y2", y).attr("stroke", color).attr("stroke-width", w).attr("stroke-linecap", "round");
const ltext = (g, x, y, txt, color = "#000") => g.append("text").attr("x", x).attr("y", y).attr("dominant-baseline", "central").attr("font-size", 30).attr("fill", color).text(txt);
ltext(lg1, 191, 43, "Row 3:");
tri(226, 82, "#444"); ltext(lg1, 270, 82, "Tprobe");
lline(lg1, 121, "#000", 4.5); ltext(lg1, 270, 121, "Tavg");
ltext(lg1, 191, 159, "Row 2:", "#ff0000");
tri(226, 198, "#ff5050"); ltext(lg1, 270, 198, "Tprobe");
lline(lg1, 236, "#ff0000", 4.5); ltext(lg1, 270, 236, "Tavg");
ltext(lg1, 191, 274, "Row 1:", "#0000ff");
tri(226, 313, "#5050ff"); ltext(lg1, 270, 313, "Tprobe");
lline(lg1, 352, "#0000ff", 4.5); ltext(lg1, 270, 352, "Tavg");
lline(lg1, 391, "#808080", 6); ltext(lg1, 270, 391, "T Cavity");
lline(lg1, 429, "#16f016", 6); ltext(lg1, 270, 429, "T Ambient");

// Legend 2 (irradiance)
const lg2 = ov.append("g");
lg2.append("rect").attr("x", 182.5).attr("y", 562.5).attr("width", 188).attr("height", 120).attr("fill", "#fff").attr("stroke", "#000").attr("stroke-width", 1.3);
lg2.append("rect").attr("x", 220).attr("y", 580).attr("width", 4).attr("height", 6).attr("fill", "#ff0000");
lline(lg2, 621, "#000", 2, 186, 262);
lg2.append("rect").attr("x", 220).attr("y", 658).attr("width", 4).attr("height", 6).attr("fill", "#00ffff");
ltext(lg2, 267, 583, "BNI");
ltext(lg2, 267, 621, "DHI*10");
ltext(lg2, 267, 661, "DHI");

chart.appendChild(ov.node());
</script>
</body>
</html>
